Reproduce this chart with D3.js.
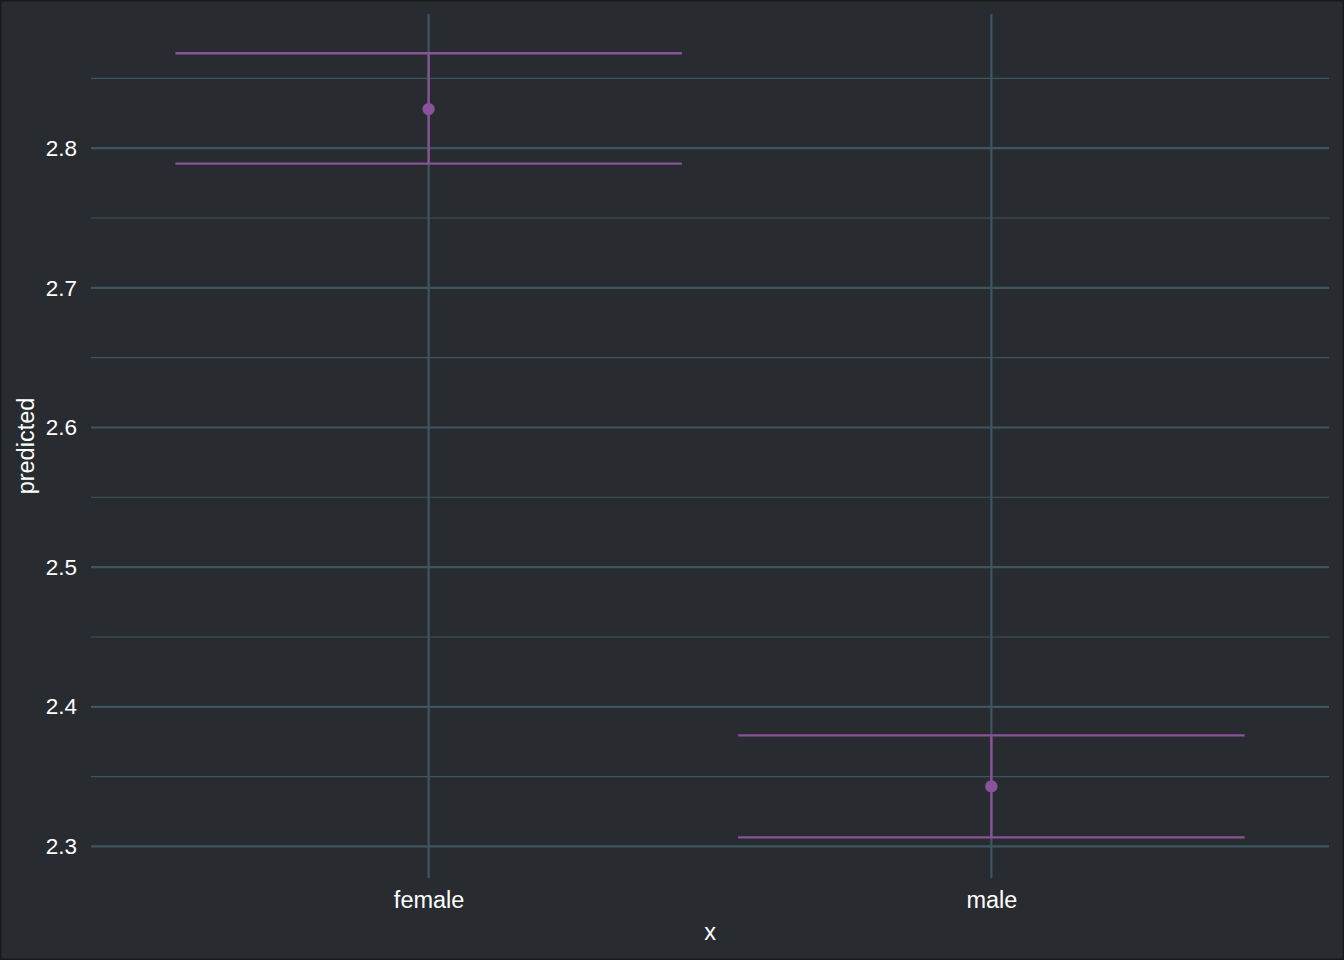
<!DOCTYPE html>
<html><head><meta charset="utf-8">
<script src="https://cdn.jsdelivr.net/npm/d3@7"></script>
<style>html,body{margin:0;padding:0;background:#282b30;}svg{display:block;}</style>
</head><body>
<script>
const categories = ["female", "male"];
const predicted = [2.828, 2.343];
const confLow = [2.789, 2.3065];
const confHigh = [2.868, 2.3795];
const yTicks = [2.3, 2.4, 2.5, 2.6, 2.7, 2.8];
const yMinor = [2.35, 2.45, 2.55, 2.65, 2.75, 2.85];
const yDomain = [2.2774, 2.8961];

const W = 1344, H = 960;
const panel = {left: 91, right: 1329, top: 14, bottom: 878};
const bg = "#282b30", grid = "#3e5660", purple = "#8a529a";
const font = "Liberation Sans, Arial, sans-serif";

const svg = d3.select("body").append("svg").attr("width", W).attr("height", H);
svg.append("rect").attr("x", 0).attr("y", 0).attr("width", W).attr("height", H).attr("fill", bg)
  .attr("stroke", "#18191b").attr("stroke-width", 3);

// x: discrete with 0.6 expansion
const xPos = d3.scaleLinear().domain([0.4, categories.length + 0.6]).range([panel.left, panel.right]);
const x = c => xPos(categories.indexOf(c) + 1);
const y = d3.scaleLinear().domain(yDomain).range([panel.bottom, panel.top]);

const g = svg.append("g");
g.selectAll(".minor").data(yMinor).join("line")
  .attr("x1", panel.left).attr("x2", panel.right)
  .attr("y1", d => y(d)).attr("y2", d => y(d))
  .attr("stroke", grid).attr("stroke-width", 1.1);
g.selectAll(".major").data(yTicks).join("line")
  .attr("x1", panel.left).attr("x2", panel.right)
  .attr("y1", d => y(d)).attr("y2", d => y(d))
  .attr("stroke", grid).attr("stroke-width", 2.2);
g.selectAll(".vmajor").data(categories).join("line")
  .attr("x1", d => x(d)).attr("x2", d => x(d))
  .attr("y1", panel.top).attr("y2", panel.bottom)
  .attr("stroke", grid).attr("stroke-width", 2.2);

// y axis labels
const yAxis = d3.axisLeft(y).tickValues(yTicks).tickSize(0).tickPadding(14).tickFormat(d3.format(".1f"));
const ya = svg.append("g").attr("transform", `translate(${panel.left},0)`).call(yAxis);
ya.select(".domain").remove();
ya.selectAll("text").attr("fill", "#ffffff").style("font-family", font).style("font-size", "22.5px");

// x axis labels
const xBand = d3.scalePoint().domain(categories).range([x(categories[0]), x(categories[categories.length-1])]);
const xAxis = d3.axisBottom(xBand).tickSize(0).tickPadding(13);
const xa = svg.append("g").attr("transform", `translate(0,${panel.bottom})`).call(xAxis);
xa.select(".domain").remove();
xa.selectAll("text").attr("fill", "#ffffff").style("font-family", font).style("font-size", "23.5px");

// titles
svg.append("text").attr("x", (panel.left + panel.right) / 2).attr("y", 940)
  .attr("text-anchor", "middle").attr("fill", "#ffffff")
  .style("font-family", font).style("font-size", "23.5px").text("x");
svg.append("text").attr("transform", `translate(34,${(panel.top + panel.bottom) / 2}) rotate(-90)`)
  .attr("text-anchor", "middle").attr("fill", "#ffffff")
  .style("font-family", font).style("font-size", "23.5px").text("predicted");

// error bars
const halfW = 0.45;
const data = categories.map((c, i) => ({c, i, p: predicted[i], lo: confLow[i], hi: confHigh[i]}));
const eb = svg.append("g");
eb.selectAll(".v").data(data).join("line")
  .attr("x1", d => x(d.c)).attr("x2", d => x(d.c))
  .attr("y1", d => y(d.lo)).attr("y2", d => y(d.hi))
  .attr("stroke", purple).attr("stroke-width", 2.3);
eb.selectAll(".hi").data(data).join("line")
  .attr("x1", d => xPos(d.i + 1 - halfW)).attr("x2", d => xPos(d.i + 1 + halfW))
  .attr("y1", d => y(d.hi)).attr("y2", d => y(d.hi))
  .attr("stroke", purple).attr("stroke-width", 2.3);
eb.selectAll(".lo").data(data).join("line")
  .attr("x1", d => xPos(d.i + 1 - halfW)).attr("x2", d => xPos(d.i + 1 + halfW))
  .attr("y1", d => y(d.lo)).attr("y2", d => y(d.lo))
  .attr("stroke", purple).attr("stroke-width", 2.3);
svg.append("g").selectAll("circle").data(data).join("circle")
  .attr("cx", d => x(d.c)).attr("cy", d => y(d.p)).attr("r", 6.2).attr("fill", purple);
</script>
</body></html>
